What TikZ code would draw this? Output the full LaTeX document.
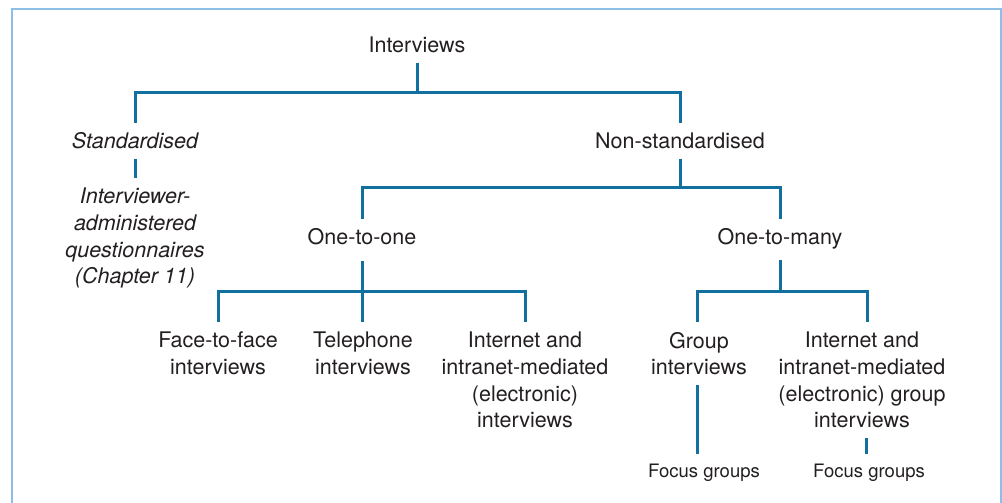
\documentclass[tikz,border=0pt]{standalone}
\usepackage{fontspec}
\setmainfont{TeX Gyre Heros}
\usetikzlibrary{positioning}
\definecolor{ivline} {RGB}{18,112,160}
\definecolor{ivframe}{RGB}{140,190,230}
\definecolor{ivtext} {RGB}{35, 31, 32}
\tikzset{
  lbl/.style={align=center,text=ivtext,inner xsep=2pt,inner ysep=10pt,
    font=\fontsize{21.5}{26.7}\selectfont},
  lblit/.style={lbl,font=\fontsize{21.5}{26.7}\selectfont\itshape},
  lblone/.style={lbl,text height=15.5pt,text depth=0pt},
  lblitone/.style={lblit,text height=15.5pt,text depth=0pt},
  lblsmall/.style={lbl,text height=13.3pt,text depth=0pt,
    font=\fontsize{18.5}{22}\selectfont},
  conn/.style={draw=ivline,line width=3pt},
  boxframe/.style={draw=ivframe,line width=2.3pt},
}
\begin{document}
\begin{tikzpicture}[x=1pt,y=-1pt]
  \useasboundingbox (0,0) rectangle (1002,503);
  \draw[boxframe] (12,510) -- (12,8.7) -- (1001,8.7) -- (1001,510);

  % levels 1 and 2
  \node[lblone]   (intv) at (417,45)  {Interviews};
  \node[lblitone] (std)  at (135,141) {Standardised};
  \node[lblone]   (nstd) at (680,141) {Non-standardised};
  \node[lblit,anchor=north] (adm) at (135,178)
    {Interviewer-\\administered\\questionnaires\\(Chapter 11)};

  % level 3
  \node[lblone] (oto) at (362,237) {One-to-one};
  \node[lblone] (otm) at (780,237) {One-to-many};

  % level 4
  \node[lbl,anchor=north] (f2f)  at (218,322) {Face-to-face\\interviews};
  \node[lbl,anchor=north] (tel)  at (363,322) {Telephone\\interviews};
  \node[lbl,anchor=north] (inet) at (525,322)
    {Internet and\\intranet-mediated\\(electronic)\\interviews};
  \node[lbl,anchor=north] (grp)  at (699,322) {Group\\interviews};
  \node[lbl,anchor=north] (igrp) at (862,322)
    {Internet and\\intranet-mediated\\(electronic) group\\interviews};

  % level 5
  \node[lblsmall] (fga) at (704,471) {Focus groups};
  \node[lblsmall] (fgb) at (869,471) {Focus groups};

  \coordinate (j0) at (417,93);
  \coordinate (j1) at (680,187);
  \coordinate (j2) at (362,291);
  \coordinate (j3) at (780,291);

  \draw[conn] (intv.south) -- (j0);
  \draw[conn] (std.north) |- (j0) -| (nstd.north);
  \draw[conn] (std.south) -- (adm.north);

  \draw[conn] (nstd.south) -- (j1);
  \draw[conn] (oto.north) |- (j1) -| (otm.north);

  \draw[conn,shorten <=6pt] (oto.south) -- (j2);
  \draw[conn] (f2f.north) |- (j2) -| (inet.north);
  \draw[conn] (j2) -- (j2 |- tel.north);

  \draw[conn,shorten <=5pt] (otm.south) -- (j3);
  \draw[conn] ([xshift=-2pt]grp.north) |- (j3) -| ([xshift=5pt]igrp.north);

  \draw[conn] ([xshift=-2pt]grp.south) -- ([xshift=-2pt]grp.south |- fga.north);
  \draw[conn] ([xshift=4pt]igrp.south) -- ([xshift=4pt]igrp.south |- fgb.north);
\end{tikzpicture}
\end{document}
